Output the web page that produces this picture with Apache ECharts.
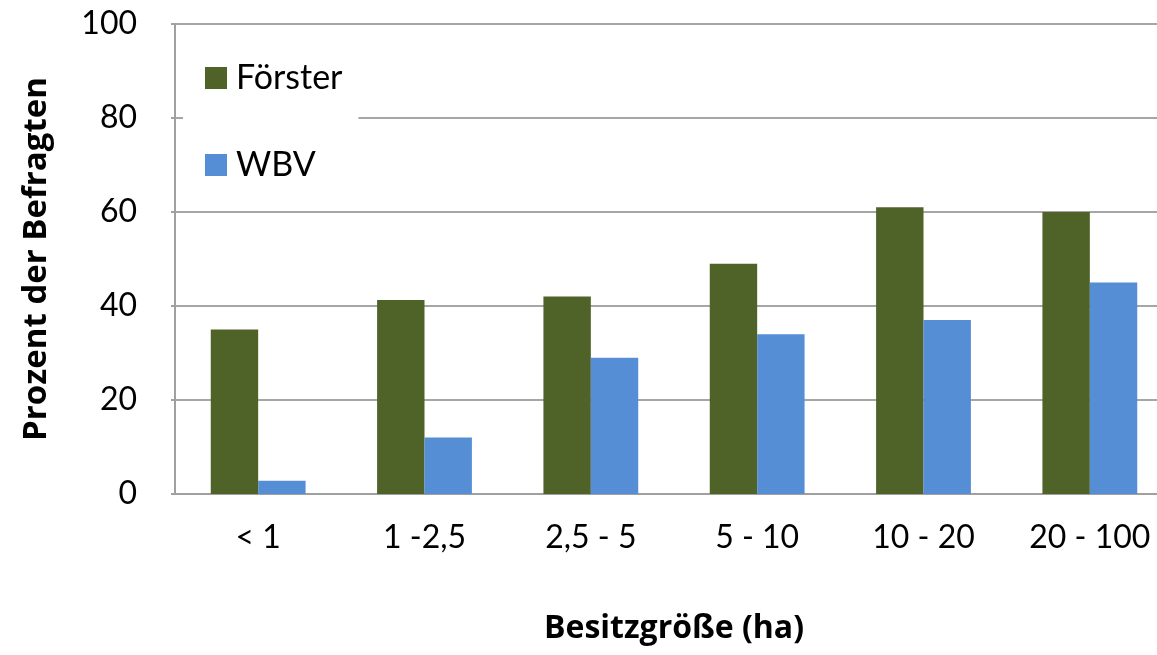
<!DOCTYPE html>
<html>
<head>
    <meta charset="utf-8">
    <title>Besitzgroesse</title>
    <script src="https://cdn.jsdelivr.net/npm/echarts@6/dist/echarts.min.js"></script>
</head>
<body style="margin:0;background:#fff;">
    <div id="main" style="width: 1157px;height:655px;"></div>
    <script type="text/javascript">

    // data
    var categories = ['< 1', '1 -2,5', '2,5 - 5', '5 - 10', '10 - 20', '20 - 100'];
    var foerster = [35, 41.3, 42, 49, 61, 60];
    var wbv = [2.8, 12, 29, 34, 37, 45];
    var yTicks = [0, 20, 40, 60, 80, 100];

    var font = 'Lato, "Open Sans", sans-serif';
    var titleFont = '"Open Sans", sans-serif';
    var chart = echarts.init(document.getElementById('main'));

    var option = {
        animation: false,
        textStyle: { fontFamily: font },
        grid: {
            left: 175,
            top: 24,
            width: 998,
            bottom: 161,
            containLabel: false,
            outerBoundsMode: 'none'
        },
        legend: {
            orient: 'vertical',
            left: 183,
            top: 55,
            itemWidth: 22,
            itemHeight: 22,
            itemGap: 53,
            padding: [6, 16, 6, 22],
            backgroundColor: '#fff',
            icon: 'rect',
            textStyle: { fontFamily: font, fontSize: 34, color: '#000', padding: [0, 0, 0, 4] },
            data: ['Förster', 'WBV']
        },
        xAxis: {
            type: 'category',
            data: categories,
            name: 'Besitzgröße (ha)',
            nameLocation: 'middle',
            nameGap: 119,
            nameTextStyle: { fontFamily: titleFont, fontSize: 32, fontWeight: 'bold', color: '#000' },
            axisLine: { lineStyle: { color: '#a0a0a0', width: 2 } },
            axisTick: { show: false },
            axisLabel: { fontFamily: font, fontSize: 32, color: '#000', margin: 28 }
        },
        yAxis: {
            type: 'value',
            min: yTicks[0],
            max: yTicks[yTicks.length - 1],
            interval: 20,
            name: 'Prozent der Befragten',
            nameLocation: 'middle',
            nameRotate: 90,
            nameGap: 122,
            nameTextStyle: { fontFamily: titleFont, fontSize: 33, fontWeight: 'bold', color: '#000' },
            axisLine: { show: true, lineStyle: { color: '#a0a0a0', width: 2 } },
            axisTick: { show: true, length: 4, lineStyle: { color: '#a0a0a0', width: 2 } },
            axisLabel: { fontFamily: font, fontSize: 32, color: '#000', margin: 38 },
            splitLine: { lineStyle: { color: '#a6a6a6', width: 2 } }
        },
        series: [
            {
                name: 'Förster',
                type: 'bar',
                data: foerster,
                barGap: '0%',
                barCategoryGap: '43%',
                itemStyle: { color: '#4f6228' }
            },
            {
                name: 'WBV',
                type: 'bar',
                data: wbv,
                itemStyle: { color: '#558ed5' }
            }
        ]
    };

    chart.setOption(option);
    </script>
</body>
</html>
